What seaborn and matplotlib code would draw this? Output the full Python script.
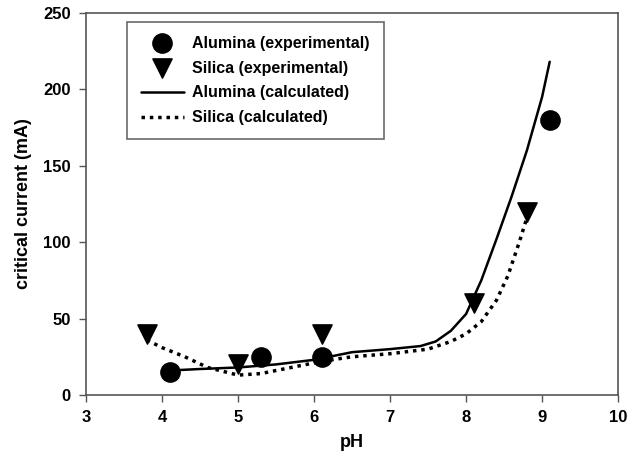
import numpy as np
import pandas as pd
import seaborn as sns
import matplotlib.pyplot as plt

# experimental points
alu_ph = [4.1, 5.3, 6.1, 9.1]
alu_i = [15, 25, 25, 180]
sil_ph = [3.8, 5.0, 6.1, 8.1, 8.8]
sil_i = [40, 20, 40, 60, 120]

# calculated curves
alu_calc_ph = [4.1, 4.5, 5.0, 5.5, 6.0, 6.5, 7.0, 7.4, 7.6, 7.8, 8.0, 8.2, 8.4, 8.6, 8.8, 9.0, 9.1]
alu_calc_i = [16, 17, 18, 20, 23, 28, 30, 32, 35, 42, 53, 75, 102, 130, 160, 195, 218]
sil_calc_ph = [3.8, 4.0, 4.3, 4.6, 5.0, 5.3, 5.7, 6.1, 6.5, 7.0, 7.5, 7.8, 8.0, 8.2, 8.4, 8.55, 8.7, 8.8]
sil_calc_i = [36, 31, 25, 18, 13, 14, 18, 22, 25, 27, 30, 35, 40, 48, 62, 78, 100, 116]

sns.set_style("ticks")
plt.rcParams['font.family'] = ['Liberation Sans', 'DejaVu Sans']
plt.rcParams['font.weight'] = 'bold'
plt.rcParams['text.color'] = 'black'
plt.rcParams['axes.labelcolor'] = 'black'

fig = plt.figure(figsize=(6.29, 4.66), dpi=100)
ax = fig.add_axes([0.1367, 0.1524, 0.846, 0.820])

sns.scatterplot(x=alu_ph, y=alu_i, marker='o', s=190, color='black', edgecolor='black',
                label='Alumina (experimental)', ax=ax, zorder=3)
sns.scatterplot(x=sil_ph, y=sil_i, marker='v', s=190, color='black', edgecolor='black',
                label='Silica (experimental)', ax=ax, zorder=3)
sns.lineplot(x=alu_calc_ph, y=alu_calc_i, color='black', lw=1.8, sort=False,
             label='Alumina (calculated)', ax=ax)
sns.lineplot(x=sil_calc_ph, y=sil_calc_i, color='black', lw=2.5, sort=False,
             linestyle=(0, (1, 1.4)), label='Silica (calculated)', ax=ax)

ax.set_xlim(3, 10)
ax.set_ylim(0, 250)
ax.set_xticks(range(3, 11))
ax.set_yticks(range(0, 251, 50))
ax.tick_params(labelsize=12, direction='out', length=5, width=1, color='#555555',
               labelcolor='black', pad=6)
for lab in ax.get_xticklabels() + ax.get_yticklabels():
    lab.set_fontweight('bold')
ax.set_xlabel('pH', fontsize=13, fontweight='bold', labelpad=6)
ax.set_ylabel('critical current (mA)', fontsize=13, fontweight='bold', labelpad=8)
for sp in ax.spines.values():
    sp.set_color('#555555')
    sp.set_linewidth(1.2)

leg = ax.legend(loc='upper left', bbox_to_anchor=(0.077, 0.976), borderaxespad=0,
                fontsize=11.5, frameon=True, fancybox=False, edgecolor='#444444',
                markerscale=1.0, handlelength=2.7, borderpad=0.85, labelspacing=0.62,
                handletextpad=0.55)
leg.get_frame().set_linewidth(1.2)
for t in leg.get_texts():
    t.set_fontweight('bold')

fig.savefig('out.png', dpi=100)
